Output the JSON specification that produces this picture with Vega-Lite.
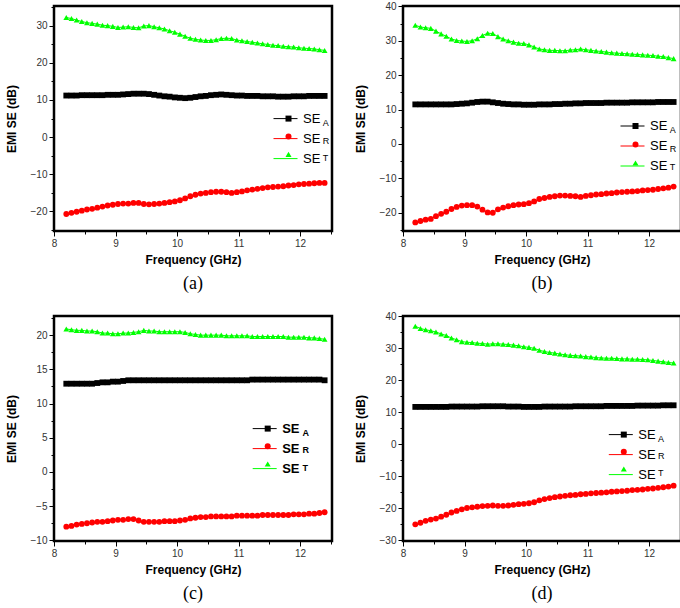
{
"$schema": "https://vega.github.io/schema/vega-lite/v6.json",
"padding": {"left": 3, "top": 0, "right": 0, "bottom": 0},
"background": "white",
"datasets": {"emi": [
{"p":"a","s":"SET","f":8.2,"v":32.3},{"p":"a","s":"SET","f":8.284,"v":32.0},{"p":"a","s":"SET","f":8.368,"v":31.6},{"p":"a","s":"SET","f":8.452,"v":31.2},{"p":"a","s":"SET","f":8.536,"v":30.9},{"p":"a","s":"SET","f":8.62,"v":30.7},{"p":"a","s":"SET","f":8.704,"v":30.5},{"p":"a","s":"SET","f":8.788,"v":30.2},{"p":"a","s":"SET","f":8.872,"v":30.1},{"p":"a","s":"SET","f":8.956,"v":29.9},{"p":"a","s":"SET","f":9.04,"v":29.6},{"p":"a","s":"SET","f":9.124,"v":29.7},{"p":"a","s":"SET","f":9.208,"v":29.8},{"p":"a","s":"SET","f":9.292,"v":29.6},{"p":"a","s":"SET","f":9.376,"v":29.5},{"p":"a","s":"SET","f":9.46,"v":30.0},{"p":"a","s":"SET","f":9.544,"v":30.1},{"p":"a","s":"SET","f":9.628,"v":29.8},{"p":"a","s":"SET","f":9.712,"v":29.5},{"p":"a","s":"SET","f":9.796,"v":29.2},{"p":"a","s":"SET","f":9.88,"v":28.7},{"p":"a","s":"SET","f":9.964,"v":28.3},{"p":"a","s":"SET","f":10.048,"v":27.8},{"p":"a","s":"SET","f":10.132,"v":27.2},{"p":"a","s":"SET","f":10.216,"v":26.7},{"p":"a","s":"SET","f":10.3,"v":26.4},{"p":"a","s":"SET","f":10.384,"v":26.2},{"p":"a","s":"SET","f":10.468,"v":26.1},{"p":"a","s":"SET","f":10.552,"v":26.1},{"p":"a","s":"SET","f":10.636,"v":26.3},{"p":"a","s":"SET","f":10.72,"v":26.6},{"p":"a","s":"SET","f":10.804,"v":26.7},{"p":"a","s":"SET","f":10.888,"v":26.6},{"p":"a","s":"SET","f":10.972,"v":26.2},{"p":"a","s":"SET","f":11.056,"v":26.0},{"p":"a","s":"SET","f":11.14,"v":25.8},{"p":"a","s":"SET","f":11.224,"v":25.6},{"p":"a","s":"SET","f":11.308,"v":25.4},{"p":"a","s":"SET","f":11.392,"v":25.2},{"p":"a","s":"SET","f":11.476,"v":25.0},{"p":"a","s":"SET","f":11.56,"v":24.8},{"p":"a","s":"SET","f":11.644,"v":24.7},{"p":"a","s":"SET","f":11.728,"v":24.5},{"p":"a","s":"SET","f":11.812,"v":24.4},{"p":"a","s":"SET","f":11.896,"v":24.3},{"p":"a","s":"SET","f":11.98,"v":24.1},{"p":"a","s":"SET","f":12.064,"v":24.0},{"p":"a","s":"SET","f":12.148,"v":23.9},{"p":"a","s":"SET","f":12.232,"v":23.8},{"p":"a","s":"SET","f":12.316,"v":23.6},{"p":"a","s":"SET","f":12.4,"v":23.4},
{"p":"a","s":"SEA","f":8.2,"v":11.2},{"p":"a","s":"SEA","f":8.284,"v":11.2},{"p":"a","s":"SEA","f":8.368,"v":11.2},{"p":"a","s":"SEA","f":8.452,"v":11.3},{"p":"a","s":"SEA","f":8.536,"v":11.3},{"p":"a","s":"SEA","f":8.62,"v":11.3},{"p":"a","s":"SEA","f":8.704,"v":11.3},{"p":"a","s":"SEA","f":8.788,"v":11.3},{"p":"a","s":"SEA","f":8.872,"v":11.4},{"p":"a","s":"SEA","f":8.956,"v":11.4},{"p":"a","s":"SEA","f":9.04,"v":11.4},{"p":"a","s":"SEA","f":9.124,"v":11.5},{"p":"a","s":"SEA","f":9.208,"v":11.6},{"p":"a","s":"SEA","f":9.292,"v":11.7},{"p":"a","s":"SEA","f":9.376,"v":11.7},{"p":"a","s":"SEA","f":9.46,"v":11.7},{"p":"a","s":"SEA","f":9.544,"v":11.6},{"p":"a","s":"SEA","f":9.628,"v":11.4},{"p":"a","s":"SEA","f":9.712,"v":11.2},{"p":"a","s":"SEA","f":9.796,"v":11.0},{"p":"a","s":"SEA","f":9.88,"v":10.9},{"p":"a","s":"SEA","f":9.964,"v":10.7},{"p":"a","s":"SEA","f":10.048,"v":10.6},{"p":"a","s":"SEA","f":10.132,"v":10.5},{"p":"a","s":"SEA","f":10.216,"v":10.6},{"p":"a","s":"SEA","f":10.3,"v":10.8},{"p":"a","s":"SEA","f":10.384,"v":11.0},{"p":"a","s":"SEA","f":10.468,"v":11.1},{"p":"a","s":"SEA","f":10.552,"v":11.3},{"p":"a","s":"SEA","f":10.636,"v":11.4},{"p":"a","s":"SEA","f":10.72,"v":11.5},{"p":"a","s":"SEA","f":10.804,"v":11.4},{"p":"a","s":"SEA","f":10.888,"v":11.3},{"p":"a","s":"SEA","f":10.972,"v":11.2},{"p":"a","s":"SEA","f":11.056,"v":11.2},{"p":"a","s":"SEA","f":11.14,"v":11.1},{"p":"a","s":"SEA","f":11.224,"v":11.1},{"p":"a","s":"SEA","f":11.308,"v":11.1},{"p":"a","s":"SEA","f":11.392,"v":11.0},{"p":"a","s":"SEA","f":11.476,"v":11.0},{"p":"a","s":"SEA","f":11.56,"v":11.0},{"p":"a","s":"SEA","f":11.644,"v":10.9},{"p":"a","s":"SEA","f":11.728,"v":10.9},{"p":"a","s":"SEA","f":11.812,"v":10.9},{"p":"a","s":"SEA","f":11.896,"v":11.0},{"p":"a","s":"SEA","f":11.98,"v":11.0},{"p":"a","s":"SEA","f":12.064,"v":11.0},{"p":"a","s":"SEA","f":12.148,"v":11.1},{"p":"a","s":"SEA","f":12.232,"v":11.1},{"p":"a","s":"SEA","f":12.316,"v":11.1},{"p":"a","s":"SEA","f":12.4,"v":11.1},
{"p":"a","s":"SER","f":8.2,"v":-20.8},{"p":"a","s":"SER","f":8.284,"v":-20.5},{"p":"a","s":"SER","f":8.368,"v":-20.2},{"p":"a","s":"SER","f":8.452,"v":-19.9},{"p":"a","s":"SER","f":8.536,"v":-19.6},{"p":"a","s":"SER","f":8.62,"v":-19.4},{"p":"a","s":"SER","f":8.704,"v":-19.1},{"p":"a","s":"SER","f":8.788,"v":-18.8},{"p":"a","s":"SER","f":8.872,"v":-18.5},{"p":"a","s":"SER","f":8.956,"v":-18.3},{"p":"a","s":"SER","f":9.04,"v":-18.1},{"p":"a","s":"SER","f":9.124,"v":-18.0},{"p":"a","s":"SER","f":9.208,"v":-18.0},{"p":"a","s":"SER","f":9.292,"v":-17.8},{"p":"a","s":"SER","f":9.376,"v":-17.8},{"p":"a","s":"SER","f":9.46,"v":-18.1},{"p":"a","s":"SER","f":9.544,"v":-18.2},{"p":"a","s":"SER","f":9.628,"v":-18.1},{"p":"a","s":"SER","f":9.712,"v":-18.0},{"p":"a","s":"SER","f":9.796,"v":-17.8},{"p":"a","s":"SER","f":9.88,"v":-17.6},{"p":"a","s":"SER","f":9.964,"v":-17.4},{"p":"a","s":"SER","f":10.048,"v":-17.1},{"p":"a","s":"SER","f":10.132,"v":-16.6},{"p":"a","s":"SER","f":10.216,"v":-16.0},{"p":"a","s":"SER","f":10.3,"v":-15.6},{"p":"a","s":"SER","f":10.384,"v":-15.3},{"p":"a","s":"SER","f":10.468,"v":-15.1},{"p":"a","s":"SER","f":10.552,"v":-14.9},{"p":"a","s":"SER","f":10.636,"v":-14.8},{"p":"a","s":"SER","f":10.72,"v":-14.8},{"p":"a","s":"SER","f":10.804,"v":-14.9},{"p":"a","s":"SER","f":10.888,"v":-15.1},{"p":"a","s":"SER","f":10.972,"v":-14.9},{"p":"a","s":"SER","f":11.056,"v":-14.7},{"p":"a","s":"SER","f":11.14,"v":-14.4},{"p":"a","s":"SER","f":11.224,"v":-14.2},{"p":"a","s":"SER","f":11.308,"v":-14.0},{"p":"a","s":"SER","f":11.392,"v":-13.8},{"p":"a","s":"SER","f":11.476,"v":-13.6},{"p":"a","s":"SER","f":11.56,"v":-13.5},{"p":"a","s":"SER","f":11.644,"v":-13.4},{"p":"a","s":"SER","f":11.728,"v":-13.3},{"p":"a","s":"SER","f":11.812,"v":-13.1},{"p":"a","s":"SER","f":11.896,"v":-13.0},{"p":"a","s":"SER","f":11.98,"v":-12.8},{"p":"a","s":"SER","f":12.064,"v":-12.7},{"p":"a","s":"SER","f":12.148,"v":-12.6},{"p":"a","s":"SER","f":12.232,"v":-12.5},{"p":"a","s":"SER","f":12.316,"v":-12.4},{"p":"a","s":"SER","f":12.4,"v":-12.4},
{"p":"b","s":"SET","f":8.2,"v":34.5},{"p":"b","s":"SET","f":8.284,"v":34.0},{"p":"b","s":"SET","f":8.368,"v":33.8},{"p":"b","s":"SET","f":8.452,"v":33.6},{"p":"b","s":"SET","f":8.536,"v":32.8},{"p":"b","s":"SET","f":8.62,"v":32.0},{"p":"b","s":"SET","f":8.704,"v":31.3},{"p":"b","s":"SET","f":8.788,"v":30.5},{"p":"b","s":"SET","f":8.872,"v":30.1},{"p":"b","s":"SET","f":8.956,"v":29.9},{"p":"b","s":"SET","f":9.04,"v":29.8},{"p":"b","s":"SET","f":9.124,"v":30.0},{"p":"b","s":"SET","f":9.208,"v":30.6},{"p":"b","s":"SET","f":9.292,"v":31.5},{"p":"b","s":"SET","f":9.376,"v":32.2},{"p":"b","s":"SET","f":9.46,"v":32.1},{"p":"b","s":"SET","f":9.544,"v":31.2},{"p":"b","s":"SET","f":9.628,"v":30.5},{"p":"b","s":"SET","f":9.712,"v":30.0},{"p":"b","s":"SET","f":9.796,"v":29.6},{"p":"b","s":"SET","f":9.88,"v":29.3},{"p":"b","s":"SET","f":9.964,"v":29.2},{"p":"b","s":"SET","f":10.048,"v":28.8},{"p":"b","s":"SET","f":10.132,"v":28.2},{"p":"b","s":"SET","f":10.216,"v":27.6},{"p":"b","s":"SET","f":10.3,"v":27.4},{"p":"b","s":"SET","f":10.384,"v":27.2},{"p":"b","s":"SET","f":10.468,"v":27.2},{"p":"b","s":"SET","f":10.552,"v":27.1},{"p":"b","s":"SET","f":10.636,"v":27.1},{"p":"b","s":"SET","f":10.72,"v":27.3},{"p":"b","s":"SET","f":10.804,"v":27.4},{"p":"b","s":"SET","f":10.888,"v":27.6},{"p":"b","s":"SET","f":10.972,"v":27.4},{"p":"b","s":"SET","f":11.056,"v":27.2},{"p":"b","s":"SET","f":11.14,"v":27.0},{"p":"b","s":"SET","f":11.224,"v":26.9},{"p":"b","s":"SET","f":11.308,"v":26.7},{"p":"b","s":"SET","f":11.392,"v":26.5},{"p":"b","s":"SET","f":11.476,"v":26.4},{"p":"b","s":"SET","f":11.56,"v":26.3},{"p":"b","s":"SET","f":11.644,"v":26.2},{"p":"b","s":"SET","f":11.728,"v":26.1},{"p":"b","s":"SET","f":11.812,"v":26.0},{"p":"b","s":"SET","f":11.896,"v":25.9},{"p":"b","s":"SET","f":11.98,"v":25.8},{"p":"b","s":"SET","f":12.064,"v":25.7},{"p":"b","s":"SET","f":12.148,"v":25.5},{"p":"b","s":"SET","f":12.232,"v":25.4},{"p":"b","s":"SET","f":12.316,"v":25.1},{"p":"b","s":"SET","f":12.4,"v":24.8},
{"p":"b","s":"SEA","f":8.2,"v":11.5},{"p":"b","s":"SEA","f":8.284,"v":11.5},{"p":"b","s":"SEA","f":8.368,"v":11.5},{"p":"b","s":"SEA","f":8.452,"v":11.5},{"p":"b","s":"SEA","f":8.536,"v":11.5},{"p":"b","s":"SEA","f":8.62,"v":11.5},{"p":"b","s":"SEA","f":8.704,"v":11.5},{"p":"b","s":"SEA","f":8.788,"v":11.5},{"p":"b","s":"SEA","f":8.872,"v":11.6},{"p":"b","s":"SEA","f":8.956,"v":11.7},{"p":"b","s":"SEA","f":9.04,"v":11.8},{"p":"b","s":"SEA","f":9.124,"v":12.0},{"p":"b","s":"SEA","f":9.208,"v":12.2},{"p":"b","s":"SEA","f":9.292,"v":12.3},{"p":"b","s":"SEA","f":9.376,"v":12.3},{"p":"b","s":"SEA","f":9.46,"v":12.1},{"p":"b","s":"SEA","f":9.544,"v":11.9},{"p":"b","s":"SEA","f":9.628,"v":11.7},{"p":"b","s":"SEA","f":9.712,"v":11.6},{"p":"b","s":"SEA","f":9.796,"v":11.5},{"p":"b","s":"SEA","f":9.88,"v":11.5},{"p":"b","s":"SEA","f":9.964,"v":11.4},{"p":"b","s":"SEA","f":10.048,"v":11.4},{"p":"b","s":"SEA","f":10.132,"v":11.4},{"p":"b","s":"SEA","f":10.216,"v":11.5},{"p":"b","s":"SEA","f":10.3,"v":11.5},{"p":"b","s":"SEA","f":10.384,"v":11.5},{"p":"b","s":"SEA","f":10.468,"v":11.6},{"p":"b","s":"SEA","f":10.552,"v":11.6},{"p":"b","s":"SEA","f":10.636,"v":11.7},{"p":"b","s":"SEA","f":10.72,"v":11.7},{"p":"b","s":"SEA","f":10.804,"v":11.8},{"p":"b","s":"SEA","f":10.888,"v":11.8},{"p":"b","s":"SEA","f":10.972,"v":11.9},{"p":"b","s":"SEA","f":11.056,"v":11.9},{"p":"b","s":"SEA","f":11.14,"v":11.9},{"p":"b","s":"SEA","f":11.224,"v":11.9},{"p":"b","s":"SEA","f":11.308,"v":12.0},{"p":"b","s":"SEA","f":11.392,"v":12.0},{"p":"b","s":"SEA","f":11.476,"v":12.0},{"p":"b","s":"SEA","f":11.56,"v":12.0},{"p":"b","s":"SEA","f":11.644,"v":12.0},{"p":"b","s":"SEA","f":11.728,"v":12.1},{"p":"b","s":"SEA","f":11.812,"v":12.1},{"p":"b","s":"SEA","f":11.896,"v":12.1},{"p":"b","s":"SEA","f":11.98,"v":12.1},{"p":"b","s":"SEA","f":12.064,"v":12.1},{"p":"b","s":"SEA","f":12.148,"v":12.2},{"p":"b","s":"SEA","f":12.232,"v":12.2},{"p":"b","s":"SEA","f":12.316,"v":12.2},{"p":"b","s":"SEA","f":12.4,"v":12.2},
{"p":"b","s":"SER","f":8.2,"v":-22.8},{"p":"b","s":"SER","f":8.284,"v":-22.4},{"p":"b","s":"SER","f":8.368,"v":-22.0},{"p":"b","s":"SER","f":8.452,"v":-21.8},{"p":"b","s":"SER","f":8.536,"v":-21.0},{"p":"b","s":"SER","f":8.62,"v":-20.3},{"p":"b","s":"SER","f":8.704,"v":-19.7},{"p":"b","s":"SER","f":8.788,"v":-18.9},{"p":"b","s":"SER","f":8.872,"v":-18.3},{"p":"b","s":"SER","f":8.956,"v":-17.9},{"p":"b","s":"SER","f":9.04,"v":-17.8},{"p":"b","s":"SER","f":9.124,"v":-17.8},{"p":"b","s":"SER","f":9.208,"v":-18.2},{"p":"b","s":"SER","f":9.292,"v":-19.1},{"p":"b","s":"SER","f":9.376,"v":-19.9},{"p":"b","s":"SER","f":9.46,"v":-20.0},{"p":"b","s":"SER","f":9.544,"v":-19.0},{"p":"b","s":"SER","f":9.628,"v":-18.5},{"p":"b","s":"SER","f":9.712,"v":-18.1},{"p":"b","s":"SER","f":9.796,"v":-17.8},{"p":"b","s":"SER","f":9.88,"v":-17.6},{"p":"b","s":"SER","f":9.964,"v":-17.5},{"p":"b","s":"SER","f":10.048,"v":-17.2},{"p":"b","s":"SER","f":10.132,"v":-16.7},{"p":"b","s":"SER","f":10.216,"v":-16.0},{"p":"b","s":"SER","f":10.3,"v":-15.7},{"p":"b","s":"SER","f":10.384,"v":-15.4},{"p":"b","s":"SER","f":10.468,"v":-15.2},{"p":"b","s":"SER","f":10.552,"v":-15.0},{"p":"b","s":"SER","f":10.636,"v":-15.0},{"p":"b","s":"SER","f":10.72,"v":-15.1},{"p":"b","s":"SER","f":10.804,"v":-15.2},{"p":"b","s":"SER","f":10.888,"v":-15.4},{"p":"b","s":"SER","f":10.972,"v":-15.1},{"p":"b","s":"SER","f":11.056,"v":-14.9},{"p":"b","s":"SER","f":11.14,"v":-14.7},{"p":"b","s":"SER","f":11.224,"v":-14.6},{"p":"b","s":"SER","f":11.308,"v":-14.4},{"p":"b","s":"SER","f":11.392,"v":-14.3},{"p":"b","s":"SER","f":11.476,"v":-14.1},{"p":"b","s":"SER","f":11.56,"v":-14.0},{"p":"b","s":"SER","f":11.644,"v":-13.9},{"p":"b","s":"SER","f":11.728,"v":-13.8},{"p":"b","s":"SER","f":11.812,"v":-13.7},{"p":"b","s":"SER","f":11.896,"v":-13.5},{"p":"b","s":"SER","f":11.98,"v":-13.4},{"p":"b","s":"SER","f":12.064,"v":-13.3},{"p":"b","s":"SER","f":12.148,"v":-13.1},{"p":"b","s":"SER","f":12.232,"v":-12.9},{"p":"b","s":"SER","f":12.316,"v":-12.7},{"p":"b","s":"SER","f":12.4,"v":-12.4},
{"p":"c","s":"SET","f":8.2,"v":20.9},{"p":"c","s":"SET","f":8.284,"v":20.8},{"p":"c","s":"SET","f":8.368,"v":20.7},{"p":"c","s":"SET","f":8.452,"v":20.7},{"p":"c","s":"SET","f":8.536,"v":20.6},{"p":"c","s":"SET","f":8.62,"v":20.6},{"p":"c","s":"SET","f":8.704,"v":20.5},{"p":"c","s":"SET","f":8.788,"v":20.3},{"p":"c","s":"SET","f":8.872,"v":20.3},{"p":"c","s":"SET","f":8.956,"v":20.2},{"p":"c","s":"SET","f":9.04,"v":20.2},{"p":"c","s":"SET","f":9.124,"v":20.3},{"p":"c","s":"SET","f":9.208,"v":20.3},{"p":"c","s":"SET","f":9.292,"v":20.4},{"p":"c","s":"SET","f":9.376,"v":20.5},{"p":"c","s":"SET","f":9.46,"v":20.7},{"p":"c","s":"SET","f":9.544,"v":20.6},{"p":"c","s":"SET","f":9.628,"v":20.6},{"p":"c","s":"SET","f":9.712,"v":20.5},{"p":"c","s":"SET","f":9.796,"v":20.5},{"p":"c","s":"SET","f":9.88,"v":20.5},{"p":"c","s":"SET","f":9.964,"v":20.5},{"p":"c","s":"SET","f":10.048,"v":20.5},{"p":"c","s":"SET","f":10.132,"v":20.4},{"p":"c","s":"SET","f":10.216,"v":20.2},{"p":"c","s":"SET","f":10.3,"v":20.1},{"p":"c","s":"SET","f":10.384,"v":20.0},{"p":"c","s":"SET","f":10.468,"v":20.0},{"p":"c","s":"SET","f":10.552,"v":20.0},{"p":"c","s":"SET","f":10.636,"v":20.0},{"p":"c","s":"SET","f":10.72,"v":20.0},{"p":"c","s":"SET","f":10.804,"v":19.9},{"p":"c","s":"SET","f":10.888,"v":19.9},{"p":"c","s":"SET","f":10.972,"v":19.9},{"p":"c","s":"SET","f":11.056,"v":19.9},{"p":"c","s":"SET","f":11.14,"v":19.9},{"p":"c","s":"SET","f":11.224,"v":19.8},{"p":"c","s":"SET","f":11.308,"v":19.8},{"p":"c","s":"SET","f":11.392,"v":19.8},{"p":"c","s":"SET","f":11.476,"v":19.8},{"p":"c","s":"SET","f":11.56,"v":19.8},{"p":"c","s":"SET","f":11.644,"v":19.8},{"p":"c","s":"SET","f":11.728,"v":19.8},{"p":"c","s":"SET","f":11.812,"v":19.7},{"p":"c","s":"SET","f":11.896,"v":19.7},{"p":"c","s":"SET","f":11.98,"v":19.7},{"p":"c","s":"SET","f":12.064,"v":19.7},{"p":"c","s":"SET","f":12.148,"v":19.6},{"p":"c","s":"SET","f":12.232,"v":19.6},{"p":"c","s":"SET","f":12.316,"v":19.5},{"p":"c","s":"SET","f":12.4,"v":19.4},
{"p":"c","s":"SEA","f":8.2,"v":12.9},{"p":"c","s":"SEA","f":8.284,"v":12.9},{"p":"c","s":"SEA","f":8.368,"v":12.9},{"p":"c","s":"SEA","f":8.452,"v":12.9},{"p":"c","s":"SEA","f":8.536,"v":12.9},{"p":"c","s":"SEA","f":8.62,"v":12.9},{"p":"c","s":"SEA","f":8.704,"v":13.0},{"p":"c","s":"SEA","f":8.788,"v":13.1},{"p":"c","s":"SEA","f":8.872,"v":13.1},{"p":"c","s":"SEA","f":8.956,"v":13.2},{"p":"c","s":"SEA","f":9.04,"v":13.2},{"p":"c","s":"SEA","f":9.124,"v":13.3},{"p":"c","s":"SEA","f":9.208,"v":13.4},{"p":"c","s":"SEA","f":9.292,"v":13.4},{"p":"c","s":"SEA","f":9.376,"v":13.4},{"p":"c","s":"SEA","f":9.46,"v":13.4},{"p":"c","s":"SEA","f":9.544,"v":13.4},{"p":"c","s":"SEA","f":9.628,"v":13.4},{"p":"c","s":"SEA","f":9.712,"v":13.4},{"p":"c","s":"SEA","f":9.796,"v":13.4},{"p":"c","s":"SEA","f":9.88,"v":13.4},{"p":"c","s":"SEA","f":9.964,"v":13.4},{"p":"c","s":"SEA","f":10.048,"v":13.4},{"p":"c","s":"SEA","f":10.132,"v":13.4},{"p":"c","s":"SEA","f":10.216,"v":13.4},{"p":"c","s":"SEA","f":10.3,"v":13.4},{"p":"c","s":"SEA","f":10.384,"v":13.4},{"p":"c","s":"SEA","f":10.468,"v":13.4},{"p":"c","s":"SEA","f":10.552,"v":13.4},{"p":"c","s":"SEA","f":10.636,"v":13.4},{"p":"c","s":"SEA","f":10.72,"v":13.4},{"p":"c","s":"SEA","f":10.804,"v":13.4},{"p":"c","s":"SEA","f":10.888,"v":13.4},{"p":"c","s":"SEA","f":10.972,"v":13.4},{"p":"c","s":"SEA","f":11.056,"v":13.4},{"p":"c","s":"SEA","f":11.14,"v":13.4},{"p":"c","s":"SEA","f":11.224,"v":13.5},{"p":"c","s":"SEA","f":11.308,"v":13.5},{"p":"c","s":"SEA","f":11.392,"v":13.5},{"p":"c","s":"SEA","f":11.476,"v":13.5},{"p":"c","s":"SEA","f":11.56,"v":13.5},{"p":"c","s":"SEA","f":11.644,"v":13.5},{"p":"c","s":"SEA","f":11.728,"v":13.5},{"p":"c","s":"SEA","f":11.812,"v":13.5},{"p":"c","s":"SEA","f":11.896,"v":13.5},{"p":"c","s":"SEA","f":11.98,"v":13.5},{"p":"c","s":"SEA","f":12.064,"v":13.5},{"p":"c","s":"SEA","f":12.148,"v":13.5},{"p":"c","s":"SEA","f":12.232,"v":13.5},{"p":"c","s":"SEA","f":12.316,"v":13.5},{"p":"c","s":"SEA","f":12.4,"v":13.4},
{"p":"c","s":"SER","f":8.2,"v":-8.0},{"p":"c","s":"SER","f":8.284,"v":-7.9},{"p":"c","s":"SER","f":8.368,"v":-7.7},{"p":"c","s":"SER","f":8.452,"v":-7.6},{"p":"c","s":"SER","f":8.536,"v":-7.5},{"p":"c","s":"SER","f":8.62,"v":-7.4},{"p":"c","s":"SER","f":8.704,"v":-7.3},{"p":"c","s":"SER","f":8.788,"v":-7.3},{"p":"c","s":"SER","f":8.872,"v":-7.2},{"p":"c","s":"SER","f":8.956,"v":-7.1},{"p":"c","s":"SER","f":9.04,"v":-7.0},{"p":"c","s":"SER","f":9.124,"v":-7.0},{"p":"c","s":"SER","f":9.208,"v":-6.9},{"p":"c","s":"SER","f":9.292,"v":-6.9},{"p":"c","s":"SER","f":9.376,"v":-7.1},{"p":"c","s":"SER","f":9.46,"v":-7.3},{"p":"c","s":"SER","f":9.544,"v":-7.3},{"p":"c","s":"SER","f":9.628,"v":-7.3},{"p":"c","s":"SER","f":9.712,"v":-7.3},{"p":"c","s":"SER","f":9.796,"v":-7.2},{"p":"c","s":"SER","f":9.88,"v":-7.2},{"p":"c","s":"SER","f":9.964,"v":-7.2},{"p":"c","s":"SER","f":10.048,"v":-7.1},{"p":"c","s":"SER","f":10.132,"v":-7.0},{"p":"c","s":"SER","f":10.216,"v":-6.8},{"p":"c","s":"SER","f":10.3,"v":-6.7},{"p":"c","s":"SER","f":10.384,"v":-6.6},{"p":"c","s":"SER","f":10.468,"v":-6.6},{"p":"c","s":"SER","f":10.552,"v":-6.5},{"p":"c","s":"SER","f":10.636,"v":-6.5},{"p":"c","s":"SER","f":10.72,"v":-6.5},{"p":"c","s":"SER","f":10.804,"v":-6.5},{"p":"c","s":"SER","f":10.888,"v":-6.5},{"p":"c","s":"SER","f":10.972,"v":-6.4},{"p":"c","s":"SER","f":11.056,"v":-6.4},{"p":"c","s":"SER","f":11.14,"v":-6.4},{"p":"c","s":"SER","f":11.224,"v":-6.4},{"p":"c","s":"SER","f":11.308,"v":-6.4},{"p":"c","s":"SER","f":11.392,"v":-6.3},{"p":"c","s":"SER","f":11.476,"v":-6.3},{"p":"c","s":"SER","f":11.56,"v":-6.3},{"p":"c","s":"SER","f":11.644,"v":-6.3},{"p":"c","s":"SER","f":11.728,"v":-6.3},{"p":"c","s":"SER","f":11.812,"v":-6.3},{"p":"c","s":"SER","f":11.896,"v":-6.2},{"p":"c","s":"SER","f":11.98,"v":-6.2},{"p":"c","s":"SER","f":12.064,"v":-6.2},{"p":"c","s":"SER","f":12.148,"v":-6.1},{"p":"c","s":"SER","f":12.232,"v":-6.1},{"p":"c","s":"SER","f":12.316,"v":-6.0},{"p":"c","s":"SER","f":12.4,"v":-5.9},
{"p":"d","s":"SET","f":8.2,"v":36.9},{"p":"d","s":"SET","f":8.284,"v":36.2},{"p":"d","s":"SET","f":8.368,"v":35.8},{"p":"d","s":"SET","f":8.452,"v":35.5},{"p":"d","s":"SET","f":8.536,"v":35.1},{"p":"d","s":"SET","f":8.62,"v":34.5},{"p":"d","s":"SET","f":8.704,"v":34.0},{"p":"d","s":"SET","f":8.788,"v":33.2},{"p":"d","s":"SET","f":8.872,"v":32.7},{"p":"d","s":"SET","f":8.956,"v":32.1},{"p":"d","s":"SET","f":9.04,"v":31.9},{"p":"d","s":"SET","f":9.124,"v":31.8},{"p":"d","s":"SET","f":9.208,"v":31.6},{"p":"d","s":"SET","f":9.292,"v":31.5},{"p":"d","s":"SET","f":9.376,"v":31.3},{"p":"d","s":"SET","f":9.46,"v":31.4},{"p":"d","s":"SET","f":9.544,"v":31.4},{"p":"d","s":"SET","f":9.628,"v":31.3},{"p":"d","s":"SET","f":9.712,"v":31.2},{"p":"d","s":"SET","f":9.796,"v":31.0},{"p":"d","s":"SET","f":9.88,"v":30.8},{"p":"d","s":"SET","f":9.964,"v":30.5},{"p":"d","s":"SET","f":10.048,"v":30.3},{"p":"d","s":"SET","f":10.132,"v":30.0},{"p":"d","s":"SET","f":10.216,"v":29.4},{"p":"d","s":"SET","f":10.3,"v":29.0},{"p":"d","s":"SET","f":10.384,"v":28.7},{"p":"d","s":"SET","f":10.468,"v":28.5},{"p":"d","s":"SET","f":10.552,"v":28.2},{"p":"d","s":"SET","f":10.636,"v":28.0},{"p":"d","s":"SET","f":10.72,"v":27.8},{"p":"d","s":"SET","f":10.804,"v":27.7},{"p":"d","s":"SET","f":10.888,"v":27.6},{"p":"d","s":"SET","f":10.972,"v":27.4},{"p":"d","s":"SET","f":11.056,"v":27.3},{"p":"d","s":"SET","f":11.14,"v":27.1},{"p":"d","s":"SET","f":11.224,"v":27.0},{"p":"d","s":"SET","f":11.308,"v":26.9},{"p":"d","s":"SET","f":11.392,"v":26.9},{"p":"d","s":"SET","f":11.476,"v":26.8},{"p":"d","s":"SET","f":11.56,"v":26.7},{"p":"d","s":"SET","f":11.644,"v":26.7},{"p":"d","s":"SET","f":11.728,"v":26.6},{"p":"d","s":"SET","f":11.812,"v":26.6},{"p":"d","s":"SET","f":11.896,"v":26.5},{"p":"d","s":"SET","f":11.98,"v":26.4},{"p":"d","s":"SET","f":12.064,"v":26.2},{"p":"d","s":"SET","f":12.148,"v":26.0},{"p":"d","s":"SET","f":12.232,"v":25.8},{"p":"d","s":"SET","f":12.316,"v":25.6},{"p":"d","s":"SET","f":12.4,"v":25.4},
{"p":"d","s":"SEA","f":8.2,"v":11.7},{"p":"d","s":"SEA","f":8.284,"v":11.7},{"p":"d","s":"SEA","f":8.368,"v":11.7},{"p":"d","s":"SEA","f":8.452,"v":11.7},{"p":"d","s":"SEA","f":8.536,"v":11.7},{"p":"d","s":"SEA","f":8.62,"v":11.7},{"p":"d","s":"SEA","f":8.704,"v":11.7},{"p":"d","s":"SEA","f":8.788,"v":11.8},{"p":"d","s":"SEA","f":8.872,"v":11.8},{"p":"d","s":"SEA","f":8.956,"v":11.8},{"p":"d","s":"SEA","f":9.04,"v":11.8},{"p":"d","s":"SEA","f":9.124,"v":11.8},{"p":"d","s":"SEA","f":9.208,"v":11.8},{"p":"d","s":"SEA","f":9.292,"v":11.9},{"p":"d","s":"SEA","f":9.376,"v":11.9},{"p":"d","s":"SEA","f":9.46,"v":11.9},{"p":"d","s":"SEA","f":9.544,"v":11.9},{"p":"d","s":"SEA","f":9.628,"v":11.9},{"p":"d","s":"SEA","f":9.712,"v":11.8},{"p":"d","s":"SEA","f":9.796,"v":11.8},{"p":"d","s":"SEA","f":9.88,"v":11.8},{"p":"d","s":"SEA","f":9.964,"v":11.7},{"p":"d","s":"SEA","f":10.048,"v":11.7},{"p":"d","s":"SEA","f":10.132,"v":11.7},{"p":"d","s":"SEA","f":10.216,"v":11.7},{"p":"d","s":"SEA","f":10.3,"v":11.8},{"p":"d","s":"SEA","f":10.384,"v":11.8},{"p":"d","s":"SEA","f":10.468,"v":11.8},{"p":"d","s":"SEA","f":10.552,"v":11.8},{"p":"d","s":"SEA","f":10.636,"v":11.8},{"p":"d","s":"SEA","f":10.72,"v":11.8},{"p":"d","s":"SEA","f":10.804,"v":11.9},{"p":"d","s":"SEA","f":10.888,"v":11.9},{"p":"d","s":"SEA","f":10.972,"v":11.9},{"p":"d","s":"SEA","f":11.056,"v":11.9},{"p":"d","s":"SEA","f":11.14,"v":11.9},{"p":"d","s":"SEA","f":11.224,"v":11.9},{"p":"d","s":"SEA","f":11.308,"v":12.0},{"p":"d","s":"SEA","f":11.392,"v":12.0},{"p":"d","s":"SEA","f":11.476,"v":12.0},{"p":"d","s":"SEA","f":11.56,"v":12.0},{"p":"d","s":"SEA","f":11.644,"v":12.0},{"p":"d","s":"SEA","f":11.728,"v":12.0},{"p":"d","s":"SEA","f":11.812,"v":12.1},{"p":"d","s":"SEA","f":11.896,"v":12.1},{"p":"d","s":"SEA","f":11.98,"v":12.1},{"p":"d","s":"SEA","f":12.064,"v":12.1},{"p":"d","s":"SEA","f":12.148,"v":12.1},{"p":"d","s":"SEA","f":12.232,"v":12.2},{"p":"d","s":"SEA","f":12.316,"v":12.2},{"p":"d","s":"SEA","f":12.4,"v":12.2},
{"p":"d","s":"SER","f":8.2,"v":-25.0},{"p":"d","s":"SER","f":8.284,"v":-24.5},{"p":"d","s":"SER","f":8.368,"v":-23.9},{"p":"d","s":"SER","f":8.452,"v":-23.5},{"p":"d","s":"SER","f":8.536,"v":-23.2},{"p":"d","s":"SER","f":8.62,"v":-22.6},{"p":"d","s":"SER","f":8.704,"v":-22.0},{"p":"d","s":"SER","f":8.788,"v":-21.3},{"p":"d","s":"SER","f":8.872,"v":-20.8},{"p":"d","s":"SER","f":8.956,"v":-20.3},{"p":"d","s":"SER","f":9.04,"v":-19.9},{"p":"d","s":"SER","f":9.124,"v":-19.7},{"p":"d","s":"SER","f":9.208,"v":-19.5},{"p":"d","s":"SER","f":9.292,"v":-19.3},{"p":"d","s":"SER","f":9.376,"v":-19.2},{"p":"d","s":"SER","f":9.46,"v":-19.1},{"p":"d","s":"SER","f":9.544,"v":-19.2},{"p":"d","s":"SER","f":9.628,"v":-19.2},{"p":"d","s":"SER","f":9.712,"v":-19.1},{"p":"d","s":"SER","f":9.796,"v":-18.9},{"p":"d","s":"SER","f":9.88,"v":-18.7},{"p":"d","s":"SER","f":9.964,"v":-18.6},{"p":"d","s":"SER","f":10.048,"v":-18.4},{"p":"d","s":"SER","f":10.132,"v":-18.1},{"p":"d","s":"SER","f":10.216,"v":-17.5},{"p":"d","s":"SER","f":10.3,"v":-17.1},{"p":"d","s":"SER","f":10.384,"v":-16.8},{"p":"d","s":"SER","f":10.468,"v":-16.5},{"p":"d","s":"SER","f":10.552,"v":-16.3},{"p":"d","s":"SER","f":10.636,"v":-16.1},{"p":"d","s":"SER","f":10.72,"v":-15.9},{"p":"d","s":"SER","f":10.804,"v":-15.8},{"p":"d","s":"SER","f":10.888,"v":-15.6},{"p":"d","s":"SER","f":10.972,"v":-15.5},{"p":"d","s":"SER","f":11.056,"v":-15.3},{"p":"d","s":"SER","f":11.14,"v":-15.2},{"p":"d","s":"SER","f":11.224,"v":-15.1},{"p":"d","s":"SER","f":11.308,"v":-15.0},{"p":"d","s":"SER","f":11.392,"v":-14.8},{"p":"d","s":"SER","f":11.476,"v":-14.7},{"p":"d","s":"SER","f":11.56,"v":-14.6},{"p":"d","s":"SER","f":11.644,"v":-14.5},{"p":"d","s":"SER","f":11.728,"v":-14.3},{"p":"d","s":"SER","f":11.812,"v":-14.2},{"p":"d","s":"SER","f":11.896,"v":-14.1},{"p":"d","s":"SER","f":11.98,"v":-13.9},{"p":"d","s":"SER","f":12.064,"v":-13.8},{"p":"d","s":"SER","f":12.148,"v":-13.6},{"p":"d","s":"SER","f":12.232,"v":-13.4},{"p":"d","s":"SER","f":12.316,"v":-13.2},{"p":"d","s":"SER","f":12.4,"v":-12.9}
]},
"data": {"name": "emi"},
"config": {
  "view": {"stroke": "#000000", "strokeWidth": 2.5},
  "axis": {"domain": false, "grid": false, "labelFont": "Liberation Sans", "labelFontSize": 10, "labelColor": "#333333", "tickColor": "#000000", "tickWidth": 1, "labelPadding": 2, "labelOverlap": false, "labelFlush": false, "titleFont": "Liberation Sans", "titleFontSize": 12, "titleFontWeight": "bold", "titleColor": "#000000"},
  "axisX": {"titlePadding": 6},
  "axisY": {"titlePadding": 12},
  "legend": {"padding": 0, "labelFont": "Liberation Sans", "labelColor": "#000000", "title": null},
  "title": {"orient": "bottom", "font": "Liberation Serif", "fontSize": 18, "fontWeight": "normal", "color": "#000000", "offset": 10, "anchor": "middle"}
},
"columns": 2,
"bounds": "flush",
"spacing": {"row": 85, "column": 71},
"resolve": {"scale": {"x": "independent", "y": "independent", "stroke": "independent", "fill": "independent", "shape": "independent"}, "legend": {"stroke": "independent", "fill": "independent", "shape": "independent"}, "axis": {"x": "independent", "y": "independent"}},
"concat": [
{
 "width": 278, "height": 225,
 "transform": [{"filter": "datum.p === 'a'"}],
 "title": {"text": "(a)"},
 "encoding": {
  "x": {"field": "f", "type": "quantitative", "title": "Frequency (GHz)", "scale": {"domain": [8, 12.52], "nice": false}, "axis": {"values": [8, 8.5, 9, 9.5, 10, 10.5, 11, 11.5, 12, 12.5], "labelExpr": "datum.value % 1 === 0 ? format(datum.value, 'd') : ''", "tickSize": {"condition": {"test": "datum.value % 1 === 0", "value": 5}, "value": 3}}},
  "y": {"field": "v", "type": "quantitative", "title": "EMI SE (dB)", "scale": {"domain": [-25.4, 35.4], "nice": false, "zero": false}, "axis": {"values": [-25, -20, -15, -10, -5, 0, 5, 10, 15, 20, 25, 30, 35], "labelExpr": "datum.value % 10 === 0 ? format(datum.value, 'd') : ''", "tickSize": {"condition": {"test": "datum.value % 10 === 0", "value": 5}, "value": 3}}}
 },
 "layer": [
  {"mark": {"type": "line", "strokeWidth": 1},
   "encoding": {"detail": {"field": "s"}, "stroke": {"field": "s", "type": "nominal", "scale": {"domain": ["SEA", "SER", "SET"], "range": ["#000000", "#ff0000", "#00ff00"]},
    "legend": {"orient": "none", "legendX": 219, "legendY": 100.1, "labelExpr": "'SE'", "labelFontSize": 13, "symbolType": "stroke", "symbolSize": 576, "symbolStrokeWidth": 1, "labelOffset": 5, "rowPadding": -1.6}}}},
  {"mark": {"type": "point", "filled": true, "opacity": 1, "size": 34},
   "encoding": {
    "fill": {"field": "s", "type": "nominal", "scale": {"range": ["#000000", "#ff0000", "#00ff00"]},
     "legend": {"orient": "none", "legendX": 230, "legendY": 108.1, "labelExpr": "substring(datum.label, 2)", "labelFontSize": 9, "labelBaseline": "top", "labelOffset": 29.8, "symbolSize": 36, "symbolStrokeWidth": 0, "rowPadding": 3.9}},
    "shape": {"field": "s", "type": "nominal", "scale": {"range": ["square", "circle", "triangle-up"]},
     "legend": {"orient": "none", "legendX": 230, "legendY": 108.1, "labelExpr": "substring(datum.label, 2)", "labelFontSize": 9, "labelBaseline": "top", "labelOffset": 29.8, "symbolSize": 36, "symbolStrokeWidth": 0, "rowPadding": 3.9}}}}
 ]
},
{
 "width": 278, "height": 225,
 "transform": [{"filter": "datum.p === 'b'"}],
 "title": {"text": "(b)"},
 "encoding": {
  "x": {"field": "f", "type": "quantitative", "title": "Frequency (GHz)", "scale": {"domain": [8, 12.52], "nice": false}, "axis": {"values": [8, 8.5, 9, 9.5, 10, 10.5, 11, 11.5, 12, 12.5], "labelExpr": "datum.value % 1 === 0 ? format(datum.value, 'd') : ''", "tickSize": {"condition": {"test": "datum.value % 1 === 0", "value": 5}, "value": 3}}},
  "y": {"field": "v", "type": "quantitative", "title": "EMI SE (dB)", "scale": {"domain": [-25.3, 40.1], "nice": false, "zero": false}, "axis": {"values": [-25, -20, -15, -10, -5, 0, 5, 10, 15, 20, 25, 30, 35, 40], "labelExpr": "datum.value % 10 === 0 ? format(datum.value, 'd') : ''", "tickSize": {"condition": {"test": "datum.value % 10 === 0", "value": 5}, "value": 3}}}
 },
 "layer": [
  {"mark": {"type": "line", "strokeWidth": 1},
   "encoding": {"detail": {"field": "s"}, "stroke": {"field": "s", "type": "nominal", "scale": {"domain": ["SEA", "SER", "SET"], "range": ["#000000", "#ff0000", "#00ff00"]},
    "legend": {"orient": "none", "legendX": 217, "legendY": 107.5, "labelExpr": "'SE'", "labelFontSize": 13, "symbolType": "stroke", "symbolSize": 576, "symbolStrokeWidth": 1, "labelOffset": 5, "rowPadding": -1.0}}}},
  {"mark": {"type": "point", "filled": true, "opacity": 1, "size": 34},
   "encoding": {
    "fill": {"field": "s", "type": "nominal", "scale": {"range": ["#000000", "#ff0000", "#00ff00"]},
     "legend": {"orient": "none", "legendX": 228, "legendY": 115.5, "labelExpr": "substring(datum.label, 2)", "labelFontSize": 9, "labelBaseline": "top", "labelOffset": 29.8, "symbolSize": 36, "symbolStrokeWidth": 0, "rowPadding": 4.5}},
    "shape": {"field": "s", "type": "nominal", "scale": {"range": ["square", "circle", "triangle-up"]},
     "legend": {"orient": "none", "legendX": 228, "legendY": 115.5, "labelExpr": "substring(datum.label, 2)", "labelFontSize": 9, "labelBaseline": "top", "labelOffset": 29.8, "symbolSize": 36, "symbolStrokeWidth": 0, "rowPadding": 4.5}}}}
 ]
},
{
 "width": 278, "height": 225,
 "transform": [{"filter": "datum.p === 'c'"}],
 "title": {"text": "(c)"},
 "encoding": {
  "x": {"field": "f", "type": "quantitative", "title": "Frequency (GHz)", "scale": {"domain": [8, 12.52], "nice": false}, "axis": {"values": [8, 8.5, 9, 9.5, 10, 10.5, 11, 11.5, 12, 12.5], "labelExpr": "datum.value % 1 === 0 ? format(datum.value, 'd') : ''", "tickSize": {"condition": {"test": "datum.value % 1 === 0", "value": 5}, "value": 3}}},
  "y": {"field": "v", "type": "quantitative", "title": "EMI SE (dB)", "scale": {"domain": [-10.1, 22.8], "nice": false, "zero": false}, "axis": {"values": [-10, -7.5, -5, -2.5, 0, 2.5, 5, 7.5, 10, 12.5, 15, 17.5, 20, 22.5], "labelExpr": "datum.value % 5 === 0 ? format(datum.value, 'd') : ''", "tickSize": {"condition": {"test": "datum.value % 5 === 0", "value": 5}, "value": 3}}}
 },
 "layer": [
  {"mark": {"type": "line", "strokeWidth": 1},
   "encoding": {"detail": {"field": "s"}, "stroke": {"field": "s", "type": "nominal", "scale": {"domain": ["SEA", "SER", "SET"], "range": ["#000000", "#ff0000", "#00ff00"]},
    "legend": {"orient": "none", "legendX": 198.2, "legendY": 100.1, "labelExpr": "'SE'", "labelFontSize": 13, "labelFontWeight": "bold", "symbolType": "stroke", "symbolSize": 576, "symbolStrokeWidth": 1, "labelOffset": 5, "rowPadding": -1.8}}}},
  {"mark": {"type": "point", "filled": true, "opacity": 1, "size": 34},
   "encoding": {
    "fill": {"field": "s", "type": "nominal", "scale": {"range": ["#000000", "#ff0000", "#00ff00"]},
     "legend": {"orient": "none", "legendX": 209.2, "legendY": 108.1, "labelExpr": "substring(datum.label, 2)", "labelFontSize": 9, "labelFontWeight": "bold", "labelBaseline": "top", "labelOffset": 30.3, "symbolSize": 36, "symbolStrokeWidth": 0, "rowPadding": 3.7}},
    "shape": {"field": "s", "type": "nominal", "scale": {"range": ["square", "circle", "triangle-up"]},
     "legend": {"orient": "none", "legendX": 209.2, "legendY": 108.1, "labelExpr": "substring(datum.label, 2)", "labelFontSize": 9, "labelFontWeight": "bold", "labelBaseline": "top", "labelOffset": 30.3, "symbolSize": 36, "symbolStrokeWidth": 0, "rowPadding": 3.7}}}}
 ]
},
{
 "width": 278, "height": 225,
 "transform": [{"filter": "datum.p === 'd'"}],
 "title": {"text": "(d)"},
 "encoding": {
  "x": {"field": "f", "type": "quantitative", "title": "Frequency (GHz)", "scale": {"domain": [8, 12.52], "nice": false}, "axis": {"values": [8, 8.5, 9, 9.5, 10, 10.5, 11, 11.5, 12, 12.5], "labelExpr": "datum.value % 1 === 0 ? format(datum.value, 'd') : ''", "tickSize": {"condition": {"test": "datum.value % 1 === 0", "value": 5}, "value": 3}}},
  "y": {"field": "v", "type": "quantitative", "title": "EMI SE (dB)", "scale": {"domain": [-30.2, 40.1], "nice": false, "zero": false}, "axis": {"values": [-30, -25, -20, -15, -10, -5, 0, 5, 10, 15, 20, 25, 30, 35, 40], "labelExpr": "datum.value % 10 === 0 ? format(datum.value, 'd') : ''", "tickSize": {"condition": {"test": "datum.value % 10 === 0", "value": 5}, "value": 3}}}
 },
 "layer": [
  {"mark": {"type": "line", "strokeWidth": 1},
   "encoding": {"detail": {"field": "s"}, "stroke": {"field": "s", "type": "nominal", "scale": {"domain": ["SEA", "SER", "SET"], "range": ["#000000", "#ff0000", "#00ff00"]},
    "legend": {"orient": "none", "legendX": 205.3, "legendY": 106.1, "labelExpr": "'SE'", "labelFontSize": 13, "symbolType": "stroke", "symbolSize": 576, "symbolStrokeWidth": 1, "labelOffset": 5, "rowPadding": -2.3}}}},
  {"mark": {"type": "point", "filled": true, "opacity": 1, "size": 34},
   "encoding": {
    "fill": {"field": "s", "type": "nominal", "scale": {"range": ["#000000", "#ff0000", "#00ff00"]},
     "legend": {"orient": "none", "legendX": 216.3, "legendY": 114.1, "labelExpr": "substring(datum.label, 2)", "labelFontSize": 9, "labelBaseline": "top", "labelOffset": 29.8, "symbolSize": 36, "symbolStrokeWidth": 0, "rowPadding": 3.2}},
    "shape": {"field": "s", "type": "nominal", "scale": {"range": ["square", "circle", "triangle-up"]},
     "legend": {"orient": "none", "legendX": 216.3, "legendY": 114.1, "labelExpr": "substring(datum.label, 2)", "labelFontSize": 9, "labelBaseline": "top", "labelOffset": 29.8, "symbolSize": 36, "symbolStrokeWidth": 0, "rowPadding": 3.2}}}}
 ]
}
]
}
